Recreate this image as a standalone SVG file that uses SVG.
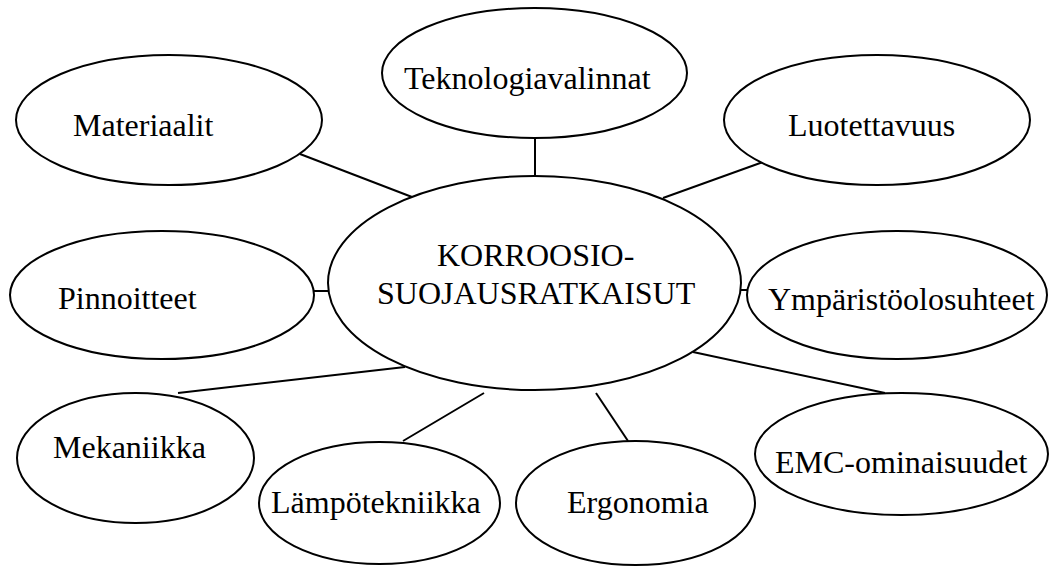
<svg xmlns="http://www.w3.org/2000/svg" width="1049" height="567" viewBox="0 0 1049 567">
  <style>
    .node ellipse { fill: #ffffff; stroke: #000000; stroke-width: 2; }
    .node text { font-size: 32px; fill: #000000; }
    #connectors line { stroke: #000000; stroke-width: 2; }
  </style>
  <rect width="1049" height="567" fill="#ffffff"/>

  <!-- spokes from the central topic to each aspect -->
  <g id="connectors">
    <line x1="535" y1="138" x2="535" y2="176"/>
    <line x1="300" y1="154" x2="412" y2="197"/>
    <line x1="663" y1="198" x2="763" y2="162"/>
    <line x1="314" y1="291" x2="328" y2="291"/>
    <line x1="741" y1="290" x2="747" y2="290"/>
    <line x1="178" y1="393" x2="405" y2="367"/>
    <line x1="693" y1="352" x2="885" y2="393"/>
    <line x1="403" y1="441" x2="484" y2="393"/>
    <line x1="596" y1="393" x2="628" y2="441"/>
  </g>

  <g font-family="Liberation Serif, DejaVu Serif, serif">
    <g id="center" class="node">
      <ellipse cx="534.5" cy="283" rx="206.5" ry="107"/>
      <text x="437" y="266">KORROOSIO-</text>
      <text x="377" y="304">SUOJAUSRATKAISUT</text>
    </g>

    <g id="teknologiavalinnat" class="node">
      <ellipse cx="534.5" cy="73" rx="152.5" ry="65"/>
      <text x="404" y="89">Teknologiavalinnat</text>
    </g>

    <g id="materiaalit" class="node">
      <ellipse cx="169" cy="120" rx="153" ry="65"/>
      <text x="73" y="136">Materiaalit</text>
    </g>

    <g id="luotettavuus" class="node">
      <ellipse cx="877" cy="120" rx="153" ry="65"/>
      <text x="788" y="136">Luotettavuus</text>
    </g>

    <g id="pinnoitteet" class="node">
      <ellipse cx="162" cy="295" rx="152" ry="64"/>
      <text x="58" y="309">Pinnoitteet</text>
    </g>

    <g id="ymparistoolosuhteet" class="node">
      <ellipse cx="897" cy="295" rx="150" ry="64"/>
      <text x="768" y="310">Ympäristöolosuhteet</text>
    </g>

    <g id="mekaniikka" class="node">
      <ellipse cx="135.5" cy="458" rx="118.5" ry="65"/>
      <text x="53" y="458">Mekaniikka</text>
    </g>

    <g id="lampotekniikka" class="node">
      <ellipse cx="379.5" cy="503" rx="120.5" ry="61"/>
      <text x="271" y="513">Lämpötekniikka</text>
    </g>

    <g id="ergonomia" class="node">
      <ellipse cx="635.5" cy="503" rx="119.5" ry="62"/>
      <text x="567" y="513">Ergonomia</text>
    </g>

    <g id="emc-ominaisuudet" class="node">
      <ellipse cx="901.5" cy="454" rx="146.5" ry="61"/>
      <text x="775" y="473">EMC-ominaisuudet</text>
    </g>
  </g>
</svg>
